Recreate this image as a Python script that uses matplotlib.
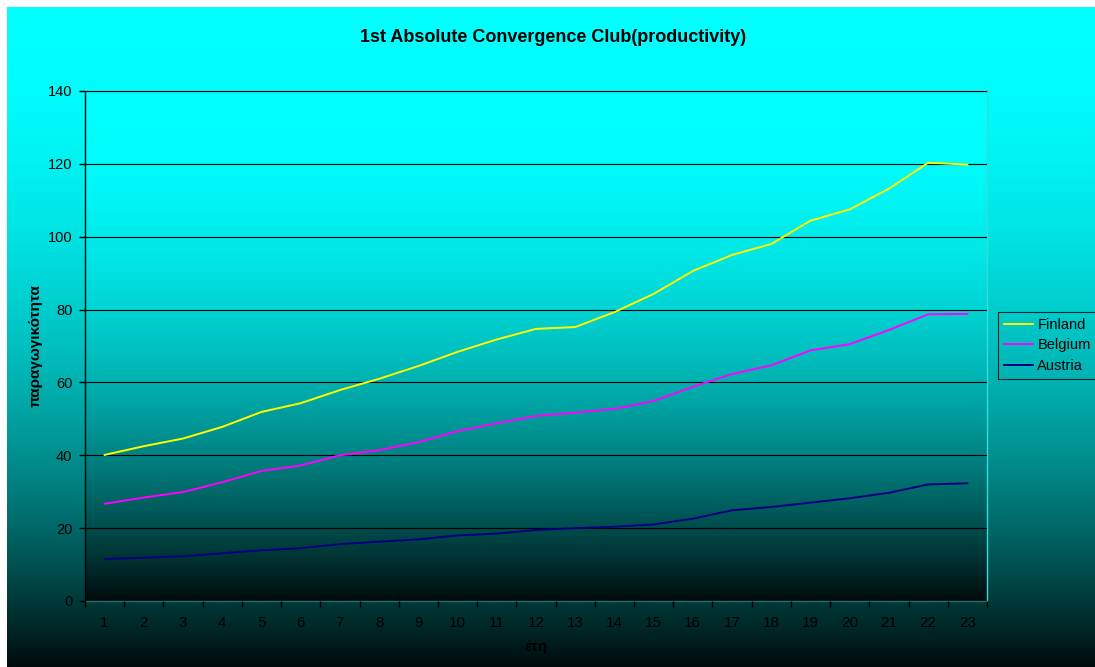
import numpy as np
import matplotlib
matplotlib.use("Agg")
import matplotlib.pyplot as plt
from matplotlib.colors import LinearSegmentedColormap
from matplotlib.ticker import FixedLocator, NullFormatter

# ── Data: productivity per year index ────────────────────────
years = list(range(1, 24))
finland = [40.1, 42.5, 44.6, 47.8, 51.9, 54.3, 57.9, 61.0, 64.5, 68.4, 71.8, 74.7,
           75.2, 79.3, 84.3, 90.6, 95.0, 98.0, 104.4, 107.5, 113.2, 120.3, 119.8]
belgium = [26.7, 28.4, 29.9, 32.6, 35.7, 37.2, 40.0, 41.4, 43.6, 46.6, 48.8, 50.8,
           51.7, 52.7, 54.9, 58.8, 62.3, 64.7, 68.8, 70.5, 74.4, 78.7, 78.8]
austria = [11.5, 11.9, 12.3, 13.1, 13.9, 14.5, 15.6, 16.3, 16.9, 18.0, 18.5, 19.5,
           20.0, 20.4, 21.0, 22.6, 24.9, 25.8, 27.0, 28.2, 29.7, 32.0, 32.3]

series_names = ["Finland", "Belgium", "Austria"]
series_colors = ["#ffff00", "#ff00ff", "#000080"]

plt.rcParams["font.family"] = ["Liberation Sans", "DejaVu Sans"]

W, H = 1095, 667
fig = plt.figure(figsize=(W / 100, H / 100), dpi=100, facecolor="white")

# cyan -> black fill, darkening faster towards the bottom
cmap = LinearSegmentedColormap.from_list("cyan_black", ["#000c0c", "#00ffff"])
t = np.linspace(0, 1, 400)
shade = (1 - t ** 2).reshape(-1, 1)

bg = fig.add_axes([7 / W, 0, 1 - 7 / W, 1 - 7 / H], zorder=-5)
bg.imshow(shade, cmap=cmap, vmin=0, vmax=1, aspect="auto",
          extent=(0, 1, 0, 1), origin="upper")
bg.set_axis_off()

ax = fig.add_axes([85 / W, 1 - 601 / H, 902 / W, 510 / H])
ax.set_facecolor("none")
ax.imshow(shade, cmap=cmap, vmin=0, vmax=1, aspect="auto",
          extent=(0.5, 23.5, 0, 140), origin="upper", zorder=0)

for vals, name, col in zip([finland, belgium, austria], series_names, series_colors):
    ax.plot(years, vals, color=col, lw=1.4, label=name, zorder=3)

ax.set_xlim(0.5, 23.5)
ax.set_ylim(0, 140)
ax.set_yticks(range(0, 141, 20))
ax.yaxis.grid(True, color="black", lw=0.8, zorder=1)
ax.set_axisbelow(False)

# category ticks between years, labels centred on each year
ax.xaxis.set_major_locator(FixedLocator(np.arange(0.5, 24, 1)))
ax.xaxis.set_major_formatter(NullFormatter())
ax.xaxis.set_minor_locator(FixedLocator(years))
ax.set_xticklabels([str(y) for y in years], minor=True)
ax.tick_params(axis="x", which="minor", length=0, pad=11, labelsize=11)
ax.tick_params(axis="x", which="major", length=4, width=1, color="black")
ax.tick_params(axis="y", length=4, width=1, color="black", pad=5, labelsize=10.5)

ax.spines["left"].set_color("black")
ax.spines["bottom"].set_color("#2a6a6a")
ax.spines["top"].set_color("#66aaaa")
ax.spines["right"].set_color("#33dddd")
for s in ax.spines.values():
    s.set_linewidth(1)

ax.set_ylabel("παραγωγικότητα", fontsize=11, fontweight="bold", labelpad=4)
ax.set_xlabel("έτη", fontsize=11, fontweight="bold", labelpad=7)
fig.text(553 / W, 1 - 38 / H, "1st Absolute Convergence Club(productivity)",
         ha="center", va="center", fontsize=13, fontweight="bold")

leg = ax.legend(loc="upper left", bbox_to_anchor=(998 / W, 1 - 312 / H),
                bbox_transform=fig.transFigure, borderaxespad=0, fontsize=10.5,
                frameon=True, fancybox=False, handlelength=2.0, handletextpad=0.3,
                labelspacing=0.45, borderpad=0.4)
leg.get_frame().set_edgecolor("black")
leg.get_frame().set_facecolor("none")
leg.get_frame().set_linewidth(0.8)

fig.savefig("out.png", dpi=100)
